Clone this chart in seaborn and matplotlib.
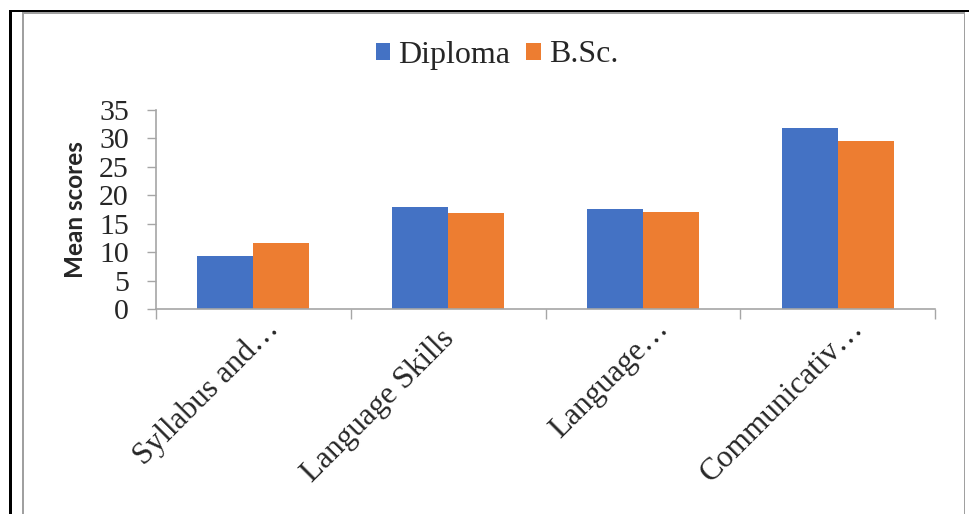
import matplotlib
matplotlib.use("Agg")
import matplotlib.pyplot as plt
from matplotlib.patches import Rectangle, Patch
from matplotlib.ticker import FixedLocator
import seaborn as sns
import pandas as pd

categories = ["Syllabus and…", "Language Skills", "Language…", "Communicativ…"]
diploma = [9.35, 17.9, 17.6, 31.8]
bsc = [11.65, 16.9, 17.05, 29.55]
series_names = ["Diploma", "B.Sc."]
y_ticks = [0, 5, 10, 15, 20, 25, 30, 35]

colors = {"Diploma": "#4472C4", "B.Sc.": "#ED7D31"}
axis_grey = "#a6a6a6"

df = pd.DataFrame({
    "category": categories * 2,
    "score": diploma + bsc,
    "group": [series_names[0]] * len(categories) + [series_names[1]] * len(categories),
})

sns.set_theme(style="white")
plt.rcParams["font.family"] = ["Liberation Serif", "DejaVu Serif"]

fig = plt.figure(figsize=(9.69, 5.14), dpi=100)
ax = fig.add_axes([156 / 969, 1 - 309 / 514, (935 - 156) / 969, 199 / 514])

sns.barplot(data=df, x="category", y="score", hue="group", order=categories,
            hue_order=series_names, palette=colors, width=0.575, gap=0,
            linewidth=0, saturation=1, ax=ax, legend=False)

ax.set_xlim(-0.5, len(categories) - 0.5)
ax.set_ylim(0, 35)
ax.set_yticks(y_ticks)
ax.set_yticklabels([str(v) for v in y_ticks])

# category boundaries carry the visible x ticks; rotated names are placed below each group
ax.set_xticks(range(len(categories)))
ax.set_xticklabels([])
ax.xaxis.set_minor_locator(FixedLocator([i - 0.5 for i in range(len(categories) + 1)]))
ax.tick_params(axis="x", which="major", length=0)
ax.tick_params(axis="x", which="minor", length=7, width=1, color=axis_grey, direction="out", bottom=True)
ax.tick_params(axis="y", which="major", length=6.5, width=1, color=axis_grey, direction="out",
               left=True, pad=13, labelsize=21.5)

# truncated names (ending in an ellipsis) sit slightly higher than full ones
for i, name in enumerate(categories):
    offset = (19, -15) if name.endswith("…") else (5, -22.5)
    ax.annotate(name, xy=(i, 0), xycoords=("data", "axes fraction"),
                xytext=offset, textcoords="offset points",
                rotation=45, ha="right", va="baseline", rotation_mode="anchor",
                fontsize=22.5, annotation_clip=False)

for side in ["top", "right"]:
    ax.spines[side].set_visible(False)
for side in ["left", "bottom"]:
    ax.spines[side].set_color(axis_grey)
    ax.spines[side].set_linewidth(1.2)

ax.set_xlabel("")
ax.set_ylabel("Mean scores", fontsize=17.5, fontweight="bold", family=["Lato", "DejaVu Sans"])
ax.yaxis.set_label_coords(-0.089, 0.5)

handles = [Patch(facecolor=colors[n], edgecolor="none") for n in series_names]
fig.legend(handles, series_names, loc="center", bbox_to_anchor=(497 / 969, 1 - 55 / 514),
           ncol=2, frameon=False, fontsize=23, handlelength=0.45, handleheight=0.45,
           handletextpad=0.25, columnspacing=0.5)

# outer frame
W, H = 969, 514
fig.add_artist(Rectangle((9 / W, 0), 3 / W, (H - 10) / H, transform=fig.transFigure,
                         facecolor="black", edgecolor="none"))
fig.add_artist(Rectangle((9 / W, (H - 12) / H), (W - 9) / W, 2 / H, transform=fig.transFigure,
                         facecolor="black", edgecolor="none"))
fig.add_artist(Rectangle((22 / W, 0), 1.5 / W, (H - 12) / H, transform=fig.transFigure,
                         facecolor="#a0a0a0", edgecolor="none"))
fig.add_artist(Rectangle((22 / W, (H - 13.5) / H), (964 - 22) / W, 1.5 / H, transform=fig.transFigure,
                         facecolor="#a0a0a0", edgecolor="none"))
fig.add_artist(Rectangle((963.5 / W, 0), 1.5 / W, (H - 12) / H, transform=fig.transFigure,
                         facecolor="#a0a0a0", edgecolor="none"))

fig.savefig("out.png", dpi=100)
